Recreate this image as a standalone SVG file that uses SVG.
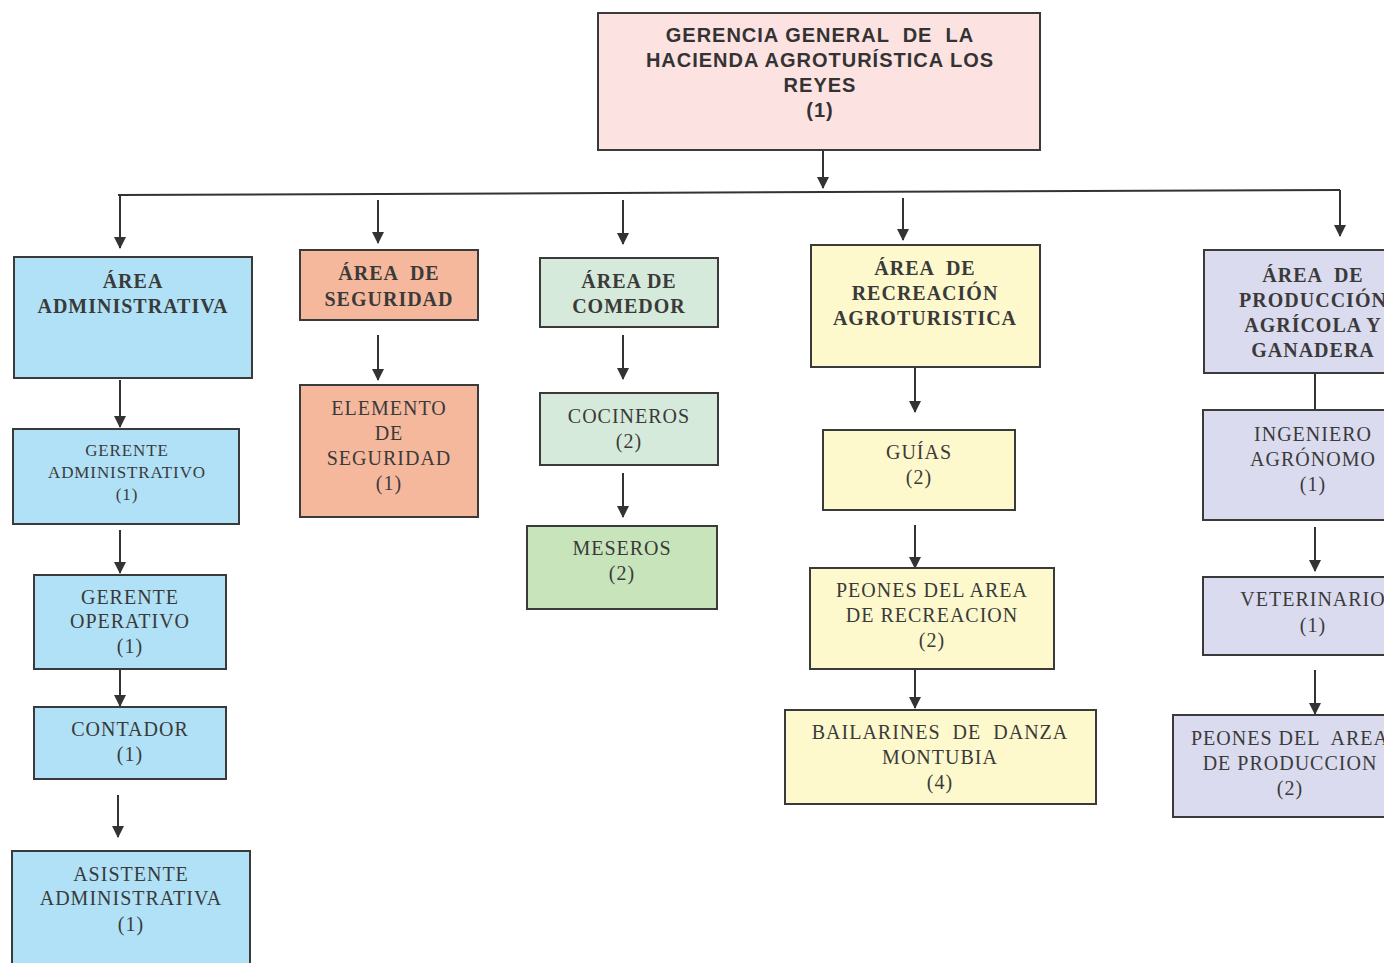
<svg xmlns="http://www.w3.org/2000/svg" width="1389" height="963" viewBox="0 0 1389 963">
<style>
.box{stroke:#3a3a3a;stroke-width:2}
.t{font-family:"Liberation Serif","Times New Roman",serif;font-size:20px;letter-spacing:1px;fill:#3a3a3a;text-anchor:middle;white-space:pre}
.h{font-weight:bold}
.sm{font-size:17px;letter-spacing:0.9px}
.s{font-family:"Liberation Sans",Arial,sans-serif;font-size:20px;letter-spacing:1px;font-weight:bold;fill:#333;text-anchor:middle;white-space:pre}
.c{stroke:#333;stroke-width:2;fill:none}
.blue{fill:#b0e1f6}.sal{fill:#f5b89d}.grn{fill:#d6eadb}.grn2{fill:#c8e4bb}.yel{fill:#fdf9cc}.lav{fill:#dadbef}
</style>
<defs>
<marker id="ar" markerWidth="12" markerHeight="12" viewBox="0 0 12 12" refX="11" refY="6" orient="auto" markerUnits="userSpaceOnUse">
<path d="M0,0 L12,6 L0,12 Z" fill="#333"/>
</marker>
<clipPath id="cut"><rect x="0" y="0" width="1384" height="963"/></clipPath>
</defs>
<rect width="1389" height="963" fill="#fff"/>
<g id="connectors">
<line class="c" x1="823" y1="150" x2="823" y2="188" marker-end="url(#ar)"/>
<line class="c" x1="118" y1="195" x2="1340" y2="190"/>
<line class="c" x1="120" y1="195" x2="120" y2="248" marker-end="url(#ar)"/>
<line class="c" x1="378" y1="200" x2="378" y2="243" marker-end="url(#ar)"/>
<line class="c" x1="623" y1="200" x2="623" y2="244" marker-end="url(#ar)"/>
<line class="c" x1="903" y1="198" x2="903" y2="240" marker-end="url(#ar)"/>
<line class="c" x1="1340" y1="190" x2="1340" y2="236" marker-end="url(#ar)"/>
<line class="c" x1="120" y1="380" x2="120" y2="427" marker-end="url(#ar)"/>
<line class="c" x1="120" y1="530" x2="120" y2="573" marker-end="url(#ar)"/>
<line class="c" x1="120" y1="669" x2="120" y2="706" marker-end="url(#ar)"/>
<line class="c" x1="118" y1="795" x2="118" y2="837" marker-end="url(#ar)"/>
<line class="c" x1="378" y1="335" x2="378" y2="380" marker-end="url(#ar)"/>
<line class="c" x1="623" y1="335" x2="623" y2="379" marker-end="url(#ar)"/>
<line class="c" x1="623" y1="473" x2="623" y2="517" marker-end="url(#ar)"/>
<line class="c" x1="915" y1="367" x2="915" y2="412" marker-end="url(#ar)"/>
<line class="c" x1="915" y1="525" x2="915" y2="568" marker-end="url(#ar)"/>
<line class="c" x1="915" y1="669" x2="915" y2="708" marker-end="url(#ar)"/>
<line class="c" x1="1315" y1="373" x2="1315" y2="410"/>
<line class="c" x1="1315" y1="527" x2="1315" y2="571" marker-end="url(#ar)"/>
<line class="c" x1="1315" y1="670" x2="1315" y2="714" marker-end="url(#ar)"/>
</g>
<g id="gerencia">
<rect class="box" x="598" y="13" width="442" height="137" fill="#fde2e2"/>
<text class="s" x="820" y="42">GERENCIA GENERAL  DE  LA</text>
<text class="s" x="820" y="67">HACIENDA AGROTURÍSTICA LOS</text>
<text class="s" x="820" y="92">REYES</text>
<text class="s" x="820" y="117">(1)</text>
</g>
<g id="area-administrativa">
<rect class="box blue" x="14" y="257" width="238" height="121"/>
<text class="t h" x="133" y="288">ÁREA</text>
<text class="t h" x="133" y="313">ADMINISTRATIVA</text>
</g>
<g id="gerente-administrativo">
<rect class="box blue" x="13" y="429" width="226" height="95"/>
<text class="t sm" x="127" y="456">GERENTE</text>
<text class="t sm" x="127" y="478">ADMINISTRATIVO</text>
<text class="t sm" x="127" y="500">(1)</text>
</g>
<g id="gerente-operativo">
<rect class="box blue" x="34" y="575" width="192" height="94"/>
<text class="t" x="130" y="604">GERENTE</text>
<text class="t" x="130" y="628">OPERATIVO</text>
<text class="t" x="130" y="653">(1)</text>
</g>
<g id="contador">
<rect class="box blue" x="34" y="707" width="192" height="72"/>
<text class="t" x="130" y="736">CONTADOR</text>
<text class="t" x="130" y="761">(1)</text>
</g>
<g id="asistente-administrativa">
<rect class="box blue" x="12" y="851" width="238" height="120"/>
<text class="t" x="131" y="881">ASISTENTE</text>
<text class="t" x="131" y="905">ADMINISTRATIVA</text>
<text class="t" x="131" y="931">(1)</text>
</g>
<g id="area-seguridad">
<rect class="box sal" x="300" y="250" width="178" height="70"/>
<text class="t h" x="389" y="280">ÁREA  DE</text>
<text class="t h" x="389" y="306">SEGURIDAD</text>
</g>
<g id="elemento-seguridad">
<rect class="box sal" x="300" y="385" width="178" height="132"/>
<text class="t" x="389" y="415">ELEMENTO</text>
<text class="t" x="389" y="440">DE</text>
<text class="t" x="389" y="465">SEGURIDAD</text>
<text class="t" x="389" y="490">(1)</text>
</g>
<g id="area-comedor">
<rect class="box grn" x="540" y="258" width="178" height="69"/>
<text class="t h" x="629" y="288">ÁREA DE</text>
<text class="t h" x="629" y="313">COMEDOR</text>
</g>
<g id="cocineros">
<rect class="box grn" x="540" y="393" width="178" height="72"/>
<text class="t" x="629" y="423">COCINEROS</text>
<text class="t" x="629" y="448">(2)</text>
</g>
<g id="meseros">
<rect class="box grn2" x="527" y="526" width="190" height="83"/>
<text class="t" x="622" y="555">MESEROS</text>
<text class="t" x="622" y="580">(2)</text>
</g>
<g id="area-recreacion">
<rect class="box yel" x="811" y="245" width="229" height="122"/>
<text class="t h" x="925" y="275">ÁREA  DE</text>
<text class="t h" x="925" y="300">RECREACIÓN</text>
<text class="t h" x="925" y="325">AGROTURISTICA</text>
</g>
<g id="guias">
<rect class="box yel" x="823" y="430" width="192" height="80"/>
<text class="t" x="919" y="459">GUÍAS</text>
<text class="t" x="919" y="484">(2)</text>
</g>
<g id="peones-recreacion">
<rect class="box yel" x="810" y="568" width="244" height="101"/>
<text class="t" x="932" y="597">PEONES DEL AREA</text>
<text class="t" x="932" y="622">DE RECREACION</text>
<text class="t" x="932" y="647">(2)</text>
</g>
<g id="bailarines">
<rect class="box yel" x="785" y="710" width="311" height="94"/>
<text class="t" x="940" y="739">BAILARINES  DE  DANZA</text>
<text class="t" x="940" y="764">MONTUBIA</text>
<text class="t" x="940" y="789">(4)</text>
</g>
<g clip-path="url(#cut)">
<g id="area-produccion">
<rect class="box lav" x="1204" y="250" width="220" height="123"/>
<text class="t h" x="1313" y="282">ÁREA  DE</text>
<text class="t h" x="1313" y="307">PRODUCCIÓN</text>
<text class="t h" x="1313" y="332">AGRÍCOLA Y</text>
<text class="t h" x="1313" y="357">GANADERA</text>
</g>
<g id="ingeniero-agronomo">
<rect class="box lav" x="1203" y="410" width="220" height="110"/>
<text class="t" x="1313" y="441">INGENIERO</text>
<text class="t" x="1313" y="466">AGRÓNOMO</text>
<text class="t" x="1313" y="491">(1)</text>
</g>
<g id="veterinario">
<rect class="box lav" x="1203" y="577" width="220" height="78"/>
<text class="t" x="1313" y="606">VETERINARIO</text>
<text class="t" x="1313" y="632">(1)</text>
</g>
<g id="peones-produccion">
<rect class="box lav" x="1173" y="715" width="250" height="102"/>
<text class="t" x="1290" y="745">PEONES DEL  AREA</text>
<text class="t" x="1290" y="770">DE PRODUCCION</text>
<text class="t" x="1290" y="795">(2)</text>
</g>
</g>
</svg>
